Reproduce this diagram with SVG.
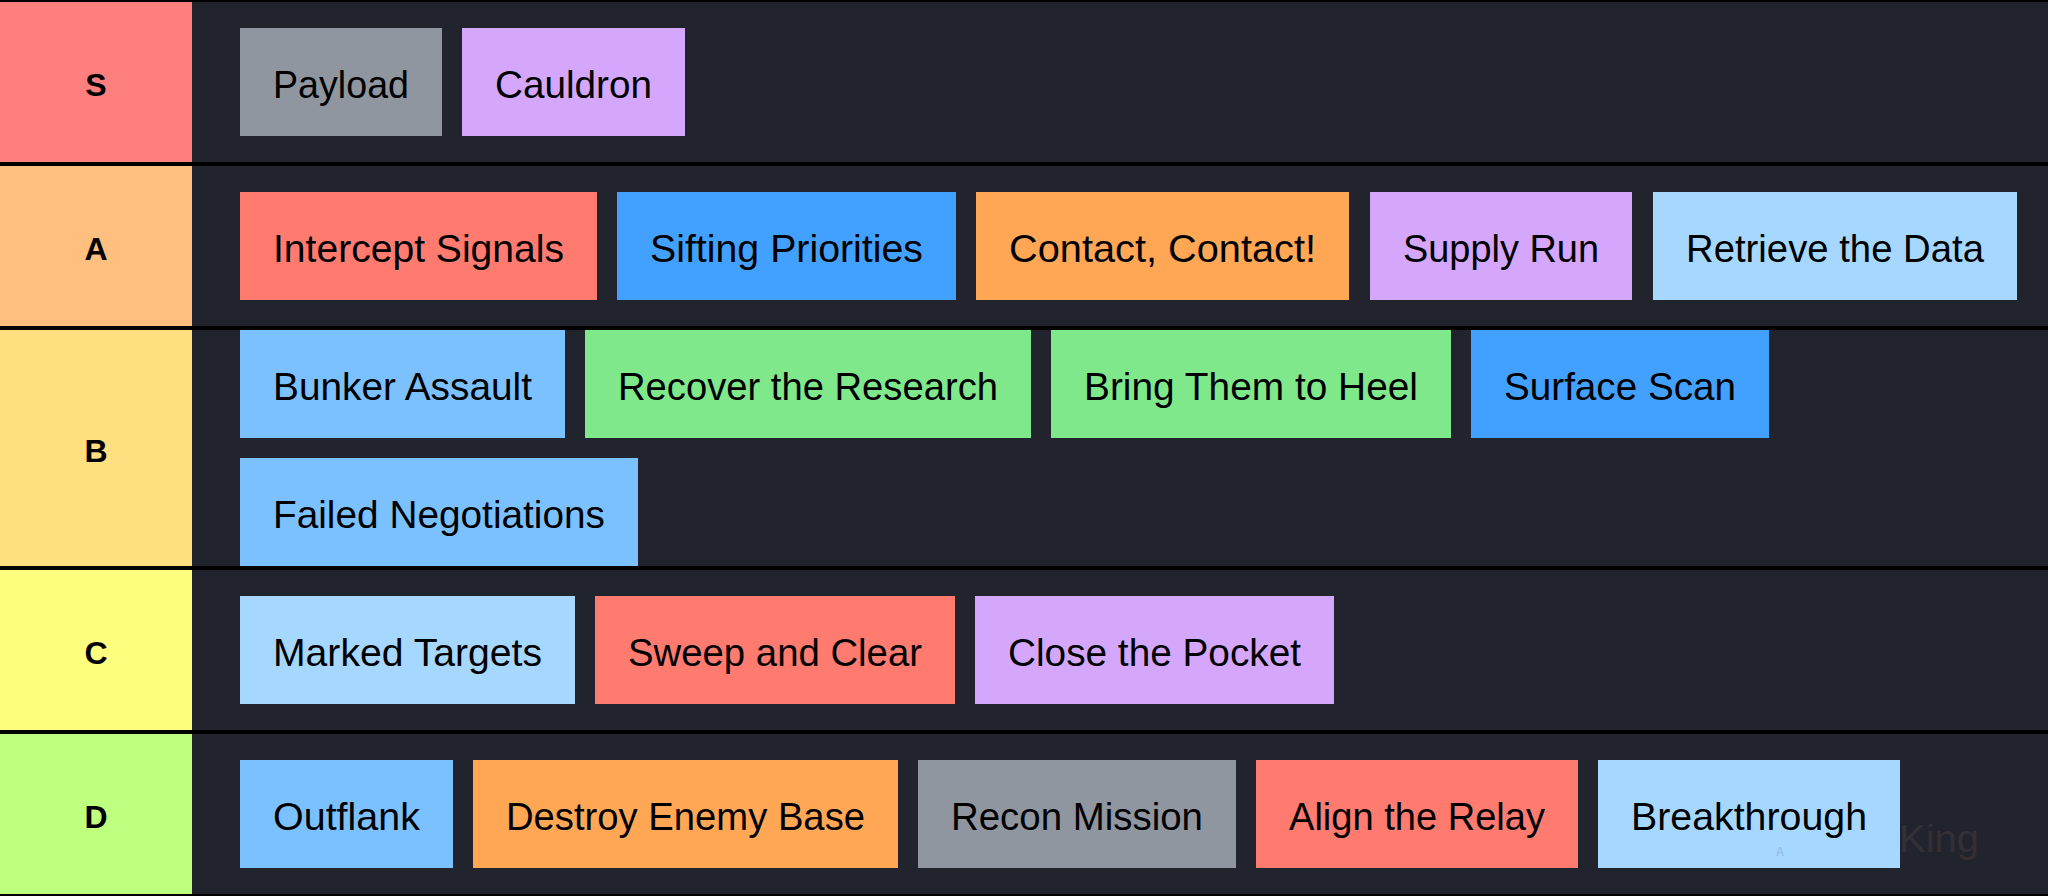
<svg xmlns="http://www.w3.org/2000/svg" width="2048" height="896" viewBox="0 0 2048 896">
<style>
.bg{fill:#21242d}
.sep{fill:#000000}
.tier{font-family:"Liberation Sans",Arial,sans-serif;font-weight:bold;font-size:32px;fill:#000;text-anchor:middle}
.item{font-family:"Liberation Sans",Arial,sans-serif;font-size:39px;fill:#000;text-anchor:middle}
.gray{fill:#8f96a0}.purple{fill:#d4a7fd}.red{fill:#ff7a6f}.blue{fill:#42a0ff}
.orange{fill:#ffa755}.lblue{fill:#a6d8ff}.mblue{fill:#7cc1ff}.green{fill:#7ee88a}
</style>
<rect class="bg" x="0" y="0" width="2048" height="896"/>
<rect class="sep" x="0" y="0" width="2048" height="2"/>
<rect class="sep" x="0" y="162" width="2048" height="4"/>
<rect class="sep" x="0" y="326" width="2048" height="4"/>
<rect class="sep" x="0" y="566" width="2048" height="4"/>
<rect class="sep" x="0" y="730" width="2048" height="4"/>
<rect class="sep" x="0" y="894" width="2048" height="2"/>
<g id="tier-S"><rect x="0" y="2" width="192" height="160" fill="#ff7f7f"/><text class="tier" x="96" y="96">S</text></g>
<g id="tier-A"><rect x="0" y="166" width="192" height="160" fill="#ffbf7f"/><text class="tier" x="96" y="260">A</text></g>
<g id="tier-B"><rect x="0" y="330" width="192" height="236" fill="#ffdf7f"/><text class="tier" x="96" y="462">B</text></g>
<g id="tier-C"><rect x="0" y="570" width="192" height="160" fill="#ffff7f"/><text class="tier" x="96" y="664">C</text></g>
<g id="tier-D"><rect x="0" y="734" width="192" height="160" fill="#bfff7f"/><text class="tier" x="96" y="828">D</text></g>

<g id="payload"><rect class="gray" x="240" y="28" width="202" height="108"/><text class="item" x="341" y="98" textLength="136" lengthAdjust="spacingAndGlyphs">Payload</text></g>
<g id="cauldron"><rect class="purple" x="462" y="28" width="223" height="108"/><text class="item" x="573.5" y="98" textLength="157" lengthAdjust="spacingAndGlyphs">Cauldron</text></g>

<g id="intercept-signals"><rect class="red" x="240" y="192" width="357" height="108"/><text class="item" x="418.5" y="262" textLength="291" lengthAdjust="spacingAndGlyphs">Intercept Signals</text></g>
<g id="sifting-priorities"><rect class="blue" x="617" y="192" width="339" height="108"/><text class="item" x="786.5" y="262" textLength="273" lengthAdjust="spacingAndGlyphs">Sifting Priorities</text></g>
<g id="contact-contact"><rect class="orange" x="976" y="192" width="373" height="108"/><text class="item" x="1162.5" y="262" textLength="307" lengthAdjust="spacingAndGlyphs">Contact, Contact!</text></g>
<g id="supply-run"><rect class="purple" x="1370" y="192" width="262" height="108"/><text class="item" x="1501" y="262" textLength="196" lengthAdjust="spacingAndGlyphs">Supply Run</text></g>
<g id="retrieve-the-data"><rect class="lblue" x="1653" y="192" width="364" height="108"/><text class="item" x="1835" y="262" textLength="298" lengthAdjust="spacingAndGlyphs">Retrieve the Data</text></g>

<g id="bunker-assault"><rect class="mblue" x="240" y="330" width="325" height="108"/><text class="item" x="402.5" y="400" textLength="259" lengthAdjust="spacingAndGlyphs">Bunker Assault</text></g>
<g id="recover-the-research"><rect class="green" x="585" y="330" width="446" height="108"/><text class="item" x="808" y="400" textLength="380" lengthAdjust="spacingAndGlyphs">Recover the Research</text></g>
<g id="bring-them-to-heel"><rect class="green" x="1051" y="330" width="400" height="108"/><text class="item" x="1251" y="400" textLength="334" lengthAdjust="spacingAndGlyphs">Bring Them to Heel</text></g>
<g id="surface-scan"><rect class="blue" x="1471" y="330" width="298" height="108"/><text class="item" x="1620" y="400" textLength="232" lengthAdjust="spacingAndGlyphs">Surface Scan</text></g>
<g id="failed-negotiations"><rect class="mblue" x="240" y="458" width="398" height="108"/><text class="item" x="439" y="528" textLength="332" lengthAdjust="spacingAndGlyphs">Failed Negotiations</text></g>

<g id="marked-targets"><rect class="lblue" x="240" y="596" width="335" height="108"/><text class="item" x="407.5" y="666" textLength="269" lengthAdjust="spacingAndGlyphs">Marked Targets</text></g>
<g id="sweep-and-clear"><rect class="red" x="595" y="596" width="360" height="108"/><text class="item" x="775" y="666" textLength="294" lengthAdjust="spacingAndGlyphs">Sweep and Clear</text></g>
<g id="close-the-pocket"><rect class="purple" x="975" y="596" width="359" height="108"/><text class="item" x="1154.5" y="666" textLength="293" lengthAdjust="spacingAndGlyphs">Close the Pocket</text></g>

<g id="outflank"><rect class="mblue" x="240" y="760" width="213" height="108"/><text class="item" x="346.5" y="830" textLength="147" lengthAdjust="spacingAndGlyphs">Outflank</text></g>
<g id="destroy-enemy-base"><rect class="orange" x="473" y="760" width="425" height="108"/><text class="item" x="685.5" y="830" textLength="359" lengthAdjust="spacingAndGlyphs">Destroy Enemy Base</text></g>
<g id="recon-mission"><rect class="gray" x="918" y="760" width="318" height="108"/><text class="item" x="1077" y="830" textLength="252" lengthAdjust="spacingAndGlyphs">Recon Mission</text></g>
<g id="align-the-relay"><rect class="red" x="1256" y="760" width="322" height="108"/><text class="item" x="1417" y="830" textLength="256" lengthAdjust="spacingAndGlyphs">Align the Relay</text></g>
<g id="breakthrough"><rect class="lblue" x="1598" y="760" width="302" height="108"/><text class="item" x="1749" y="830" textLength="236" lengthAdjust="spacingAndGlyphs">Breakthrough</text></g>

<g id="watermark" opacity="0.3">
<text x="1899" y="852" font-family="'Liberation Sans',Arial,sans-serif" font-size="38" fill="#5e4a44" textLength="80" lengthAdjust="spacingAndGlyphs">King</text>
<text x="1780" y="856" font-family="'Liberation Sans',Arial,sans-serif" font-size="12" font-weight="bold" fill="#7a8aa8" text-anchor="middle">A</text>
</g>
<g id="connectors"></g>
</svg>
